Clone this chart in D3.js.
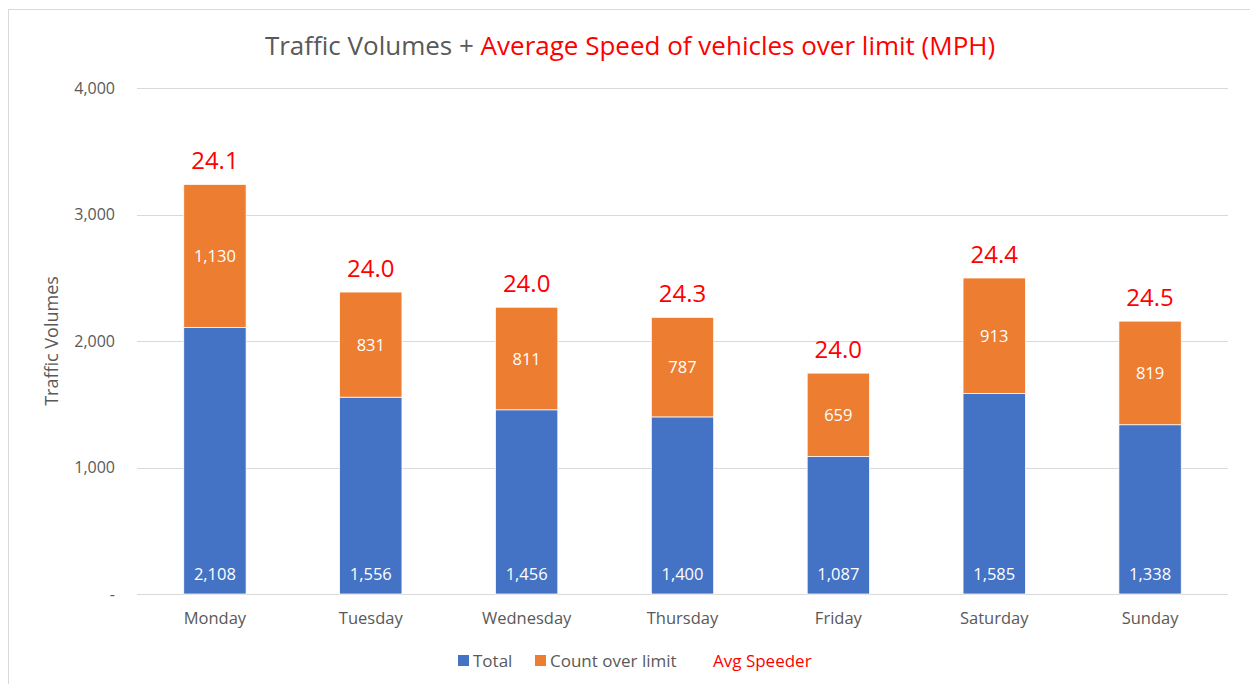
<!DOCTYPE html>
<html lang="en">
<head>
    <meta charset="UTF-8">
    <title>Traffic Volumes + Average Speed</title>
    <style>
        body { margin: 0; background: #fff; font-family: "Open Sans", Lato, sans-serif; }
        svg { display: block; }
        .grid line { stroke: #d9d9d9; stroke-width: 1; shape-rendering: crispEdges; }
    </style>
</head>
<body>
    <svg width="1250" height="684"></svg>
    <script src="https://d3js.org/d3.v7.min.js"></script>
    <script>
        const days = ["Monday", "Tuesday", "Wednesday", "Thursday", "Friday", "Saturday", "Sunday"];
        const totals = [2108, 1556, 1456, 1400, 1087, 1585, 1338];
        const overLimit = [1130, 831, 811, 787, 659, 913, 819];
        const avgSpeed = [24.1, 24.0, 24.0, 24.3, 24.0, 24.4, 24.5];
        const yTicks = [0, 1000, 2000, 3000, 4000];

        const blue = "#4472c4", orange = "#ed7d31", red = "#ff0000", grey = "#595959";
        const svg = d3.select("svg");

        // chart frame
        svg.append("rect")
            .attr("x", 8.5).attr("y", 9.5)
            .attr("width", 1260).attr("height", 700)
            .attr("fill", "none").attr("stroke", "#d9d9d9");

        const plot = { left: 137, right: 1228, top: 88, bottom: 594 };
        const x = d3.scaleBand().domain(days).range([plot.left, plot.right]).paddingInner(0.6).paddingOuter(0.3);
        const y = d3.scaleLinear().domain([0, 4000]).range([plot.bottom, plot.top]);

        // title
        const title = svg.append("text")
            .attr("x", 630).attr("y", 55)
            .attr("text-anchor", "middle")
            .style("font-size", "26px");
        title.append("tspan").attr("fill", grey).text("Traffic Volumes + ");
        title.append("tspan").attr("fill", red).text("Average Speed of vehicles over limit (MPH)");

        // gridlines
        svg.append("g").attr("class", "grid")
            .selectAll("line").data(yTicks).join("line")
            .attr("x1", plot.left).attr("x2", plot.right)
            .attr("y1", d => Math.round(y(d)) + 0.5).attr("y2", d => Math.round(y(d)) + 0.5);

        // y axis labels
        const yAxis = d3.axisLeft(y).tickValues(yTicks)
            .tickFormat(d => d === 0 ? "-" : d3.format(",")(d))
            .tickSize(0).tickPadding(22);
        const gy = svg.append("g").attr("transform", `translate(${plot.left},0)`).call(yAxis);
        gy.select(".domain").remove();
        gy.selectAll("text").attr("fill", grey).style("font-size", "16px")
            .style("font-family", "'Open Sans', sans-serif");

        svg.append("text")
            .attr("transform", `translate(58,${(plot.top + plot.bottom) / 2}) rotate(-90)`)
            .attr("text-anchor", "middle")
            .attr("fill", grey)
            .style("font-size", "18px")
            .text("Traffic Volumes");

        // x axis labels
        const xAxis = d3.axisBottom(x).tickSize(0).tickPadding(18);
        const gx = svg.append("g").attr("transform", `translate(0,${plot.bottom})`).call(xAxis);
        gx.select(".domain").remove();
        gx.selectAll("text").attr("fill", grey).style("font-size", "16.5px")
            .style("font-family", "'Open Sans', sans-serif");

        const rows = days.map((d, i) => ({ day: d, total: totals[i], over: overLimit[i], speed: avgSpeed[i] }));
        const fmt = d3.format(",");

        // stacked bars
        const bars = svg.append("g");
        bars.selectAll("rect.total").data(rows).join("rect")
            .attr("class", "total")
            .attr("x", d => x(d.day)).attr("width", x.bandwidth())
            .attr("y", d => y(d.total)).attr("height", d => y(0) - y(d.total))
            .attr("fill", blue).attr("stroke", "#fff").attr("stroke-width", 0.75);
        bars.selectAll("rect.over").data(rows).join("rect")
            .attr("class", "over")
            .attr("x", d => x(d.day)).attr("width", x.bandwidth())
            .attr("y", d => y(d.total + d.over)).attr("height", d => y(d.total) - y(d.total + d.over))
            .attr("fill", orange).attr("stroke", "#fff").attr("stroke-width", 0.75);

        // value labels
        const labels = svg.append("g").attr("text-anchor", "middle");
        labels.selectAll("text.tl").data(rows).join("text")
            .attr("class", "tl")
            .attr("x", d => x(d.day) + x.bandwidth() / 2)
            .attr("y", y(0) - 14)
            .attr("fill", "#fff").style("font-size", "16.5px")
            .text(d => fmt(d.total));
        labels.selectAll("text.ol").data(rows).join("text")
            .attr("class", "ol")
            .attr("x", d => x(d.day) + x.bandwidth() / 2)
            .attr("y", d => (y(d.total) + y(d.total + d.over)) / 2 + 6)
            .attr("fill", "#fff").style("font-size", "16.5px")
            .text(d => fmt(d.over));
        labels.selectAll("text.sp").data(rows).join("text")
            .attr("class", "sp")
            .attr("x", d => x(d.day) + x.bandwidth() / 2)
            .attr("y", d => y(d.total + d.over) - 15)
            .attr("fill", red).style("font-size", "24px")
            .text(d => d.speed.toFixed(1));

        // legend
        const legend = svg.append("g").style("font-size", "17px");
        const items = [
            { label: "Total", color: blue, x: 458 },
            { label: "Count over limit", color: orange, x: 535 }
        ];
        items.forEach(it => {
            legend.append("rect").attr("x", it.x).attr("y", 655).attr("width", 11).attr("height", 11).attr("fill", it.color);
            legend.append("text").attr("x", it.x + 15).attr("y", 667).attr("fill", grey).text(it.label);
        });
        legend.append("text").attr("x", 713).attr("y", 667).attr("fill", red).text("Avg Speeder");
    </script>
</body>
</html>
